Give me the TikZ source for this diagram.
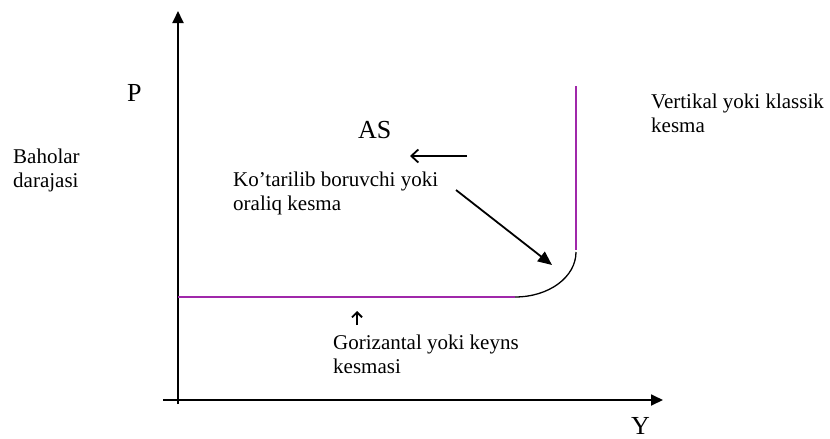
\documentclass[tikz,border=0pt]{standalone}
\usepackage{fontspec}
\setmainfont{Liberation Serif}
\usetikzlibrary{arrows.meta}
\definecolor{curvepurple}{RGB}{160,40,170}
\begin{document}
\begin{tikzpicture}[x=1pt,y=-1pt,
  lbl/.style={anchor=base west, inner sep=0pt, font=\fontsize{21}{24}\selectfont, align=left},
  big/.style={anchor=base west, inner sep=0pt, font=\fontsize{26}{30}\selectfont},
  axisline/.style={line width=1.8pt, -{Triangle[length=12pt,width=11pt]}},
  barb/.style={line width=1.8pt, -{Straight Barb[length=7pt,width=13pt,line width=1.8pt]}},
  smallbarb/.style={line width=1.8pt, -{Straight Barb[length=5pt,width=10pt,line width=1.8pt]}},
  fillarrow/.style={line width=1.8pt, -{Triangle[length=14pt,width=12pt]}},
  purpleline/.style={line width=2pt, draw=curvepurple},
  blackcurve/.style={line width=1.3pt}]
\useasboundingbox (0,0) rectangle (830,439);
% axes
\coordinate (ybot) at (178,404);
\coordinate (ytop) at (178,11);
\coordinate (xleft) at (163,400);
\coordinate (xright) at (663,400);
\draw[axisline] (ybot) -- (ytop);
\draw[axisline] (xleft) -- (xright);
% curve
\coordinate (h0) at (178,297);
\coordinate (h1) at (515,297);
\coordinate (v0) at (576,86);
\coordinate (v1) at (576,250);
\coordinate (c0) at (576,252);
\draw[purpleline] (h0) -- (h1);
\draw[purpleline] (v0) -- (v1);
\draw[blackcurve] (c0) .. controls (576,277) and (549,297) .. (h1);
% texts (base anchor = baseline of the last line)
\node[big] (P) at (127,101) {P};
\node[big] (Y) at (631,434) {Y};
\node[big] (AS) at (358,138) {AS};
\node[lbl] (bah) at (13,187) {Baholar\\darajasi};
\node[lbl] (ver) at (651,132) {Vertikal yoki klassik\\kesma};
\node[lbl] (kot) at (233,210) {Ko’tarilib boruvchi yoki\\oraliq kesma};
\node[lbl] (gor) at (333,373) {Gorizantal yoki keyns\\kesmasi};
% arrows
\coordinate (a0) at (467,156);
\coordinate (a1) at (410,156);
\draw[barb] (a0) -- (a1);
\coordinate (d0) at (456,190);
\coordinate (d1) at (552,265);
\draw[fillarrow] (d0) -- (d1);
\coordinate (u0) at (357,325);
\coordinate (u1) at (357,311);
\draw[smallbarb] (u0) -- (u1);
\end{tikzpicture}
\end{document}
